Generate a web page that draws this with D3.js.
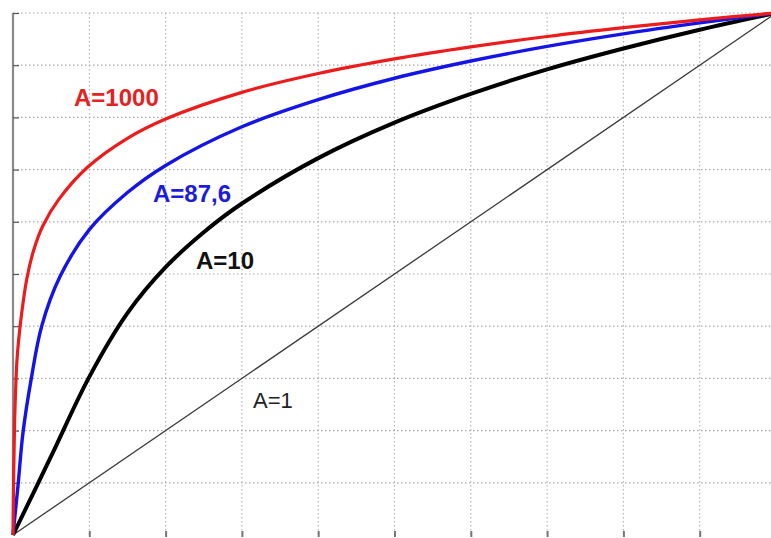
<!DOCTYPE html>
<html>
<head>
<meta charset="utf-8">
<script src="https://cdn.jsdelivr.net/npm/d3@7"></script>
<style>
  html, body { margin: 0; padding: 0; background: #fff; overflow: hidden; }
  #graphicContainer { width: 771px; height: 538px; }
  text { font-family: "Liberation Sans", Arial, sans-serif; }
</style>
</head>
<body>
<div id="graphicContainer"></div>
<script>
// values (x and y both normalised 0..1)
var gridTicks = [0.1, 0.2, 0.3, 0.4, 0.5, 0.6, 0.7, 0.8, 0.9, 1.0]

var a1X = [0, 1]
var a1Y = [0, 1]

var a10X = [0, 0.05, 0.1, 0.15, 0.2, 0.25, 0.3, 0.4, 0.5, 0.6, 0.7, 0.8, 0.9, 1]
var a10Y = [0, 0.151, 0.303, 0.425, 0.513, 0.58, 0.635, 0.722, 0.79, 0.845, 0.892, 0.932, 0.968, 1]

var a876X = [0, 0.0066, 0.013, 0.024, 0.0376, 0.0616, 0.1, 0.15, 0.2, 0.3, 0.4, 0.5, 0.6, 0.7, 0.8, 0.9, 1]
var a876Y = [0, 0.095, 0.195, 0.3, 0.4, 0.495, 0.585, 0.656, 0.708, 0.782, 0.834, 0.875, 0.908, 0.936, 0.96, 0.981, 1]

var a1000X = [0, 0.001, 0.002, 0.003, 0.005, 0.0075, 0.0114, 0.018, 0.027, 0.039, 0.06, 0.098, 0.15, 0.2, 0.3, 0.4, 0.5, 0.6, 0.7, 0.8, 0.9, 1]
var a1000Y = [0, 0.127, 0.21, 0.26, 0.33, 0.375, 0.425, 0.49, 0.545, 0.592, 0.643, 0.705, 0.76, 0.797, 0.848, 0.884, 0.912, 0.935, 0.955, 0.972, 0.987, 1]

var labels = ["A=1000", "A=87,6", "A=10", "A=1"]

var target = "#graphicContainer";
var width = 771, height = 538;

var x = d3.scaleLinear().domain([0, 1]).range([13, 776])
var y = d3.scaleLinear().domain([0, 1]).range([535, 13])

var svg = d3.select(target).append("svg")
    .attr("width", width)
    .attr("height", height)
    .attr("overflow", "hidden")

// dotted grid
svg.append("g")
    .selectAll("line.h")
    .data(gridTicks)
    .enter()
    .append("line")
    .attr("x1", x(0)).attr("x2", width)
    .attr("y1", d => y(d)).attr("y2", d => y(d))
    .attr("stroke", "#a8a8a8")
    .attr("stroke-width", 1.2)
    .attr("stroke-dasharray", "1.5,2.5")

svg.append("g")
    .selectAll("line.v")
    .data(gridTicks.slice(0, 9))
    .enter()
    .append("line")
    .attr("x1", d => x(d)).attr("x2", d => x(d))
    .attr("y1", y(1)).attr("y2", y(0))
    .attr("stroke", "#b0b0b0")
    .attr("stroke-width", 1.1)
    .attr("stroke-dasharray", "1.5,2.5")

// left axis with inner ticks
var yAxis = d3.axisRight(y).tickValues(gridTicks).tickSize(6).tickFormat("")
var ya = svg.append("g").attr("transform", "translate(" + x(0) + ",0)").call(yAxis)
ya.select(".domain").attr("stroke", "#8a8a8a").attr("stroke-width", 2.2).attr("d", "M0," + y(1) + "V" + y(0))
ya.selectAll(".tick line").attr("stroke", "#555").attr("stroke-width", 1.2)

// bottom ticks only
var xAxis = d3.axisTop(x).tickValues(gridTicks.slice(0, 9)).tickSize(6).tickFormat("")
var xa = svg.append("g").attr("transform", "translate(0," + (y(0) + 2) + ")").call(xAxis)
xa.select(".domain").remove()
xa.selectAll(".tick line").attr("stroke", "#777").attr("stroke-width", 2)

var line = d3.line()
    .x(d => x(d[0]))
    .y(d => y(d[1]))
    .curve(d3.curveCatmullRom.alpha(0.5))

function pairs(xs, ys) { return xs.map((v, i) => [v, ys[i]]) }

svg.append("path")
    .datum(pairs(a1X, a1Y))
    .attr("d", line)
    .attr("fill", "none")
    .attr("stroke", "#3a3a3a")
    .attr("stroke-width", 1.3)

svg.append("path")
    .datum(pairs(a10X, a10Y))
    .attr("d", line)
    .attr("fill", "none")
    .attr("stroke", "#000")
    .attr("stroke-width", 4)

svg.append("path")
    .datum(pairs(a876X, a876Y))
    .attr("d", line)
    .attr("fill", "none")
    .attr("stroke", "#1414e6")
    .attr("stroke-width", 3.4)

svg.append("path")
    .datum(pairs(a1000X, a1000Y))
    .attr("d", line)
    .attr("fill", "none")
    .attr("stroke", "#ec1c1c")
    .attr("stroke-width", 3.2)

// curve labels
svg.append("text").attr("x", 74).attr("y", 106)
    .attr("fill", "#e52222").attr("font-weight", "bold").attr("font-size", "24px")
    .text(labels[0])

svg.append("text").attr("x", 153).attr("y", 202)
    .attr("fill", "#1c1cdc").attr("font-weight", "bold").attr("font-size", "24px")
    .text(labels[1])

svg.append("text").attr("x", 196).attr("y", 269)
    .attr("fill", "#111").attr("font-weight", "bold").attr("font-size", "24px")
    .text(labels[2])

svg.append("text").attr("x", 253).attr("y", 408)
    .attr("fill", "#222").attr("font-size", "22px")
    .text(labels[3])
</script>
</body>
</html>
